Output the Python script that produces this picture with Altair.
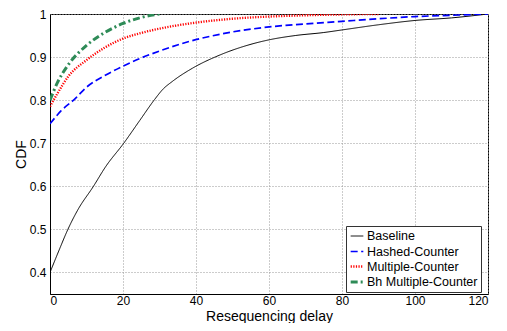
import altair as alt
import pandas as pd

series_names = ["Baseline", "Hashed-Counter", "Multiple-Counter", "Bh Multiple-Counter"]

baseline_x = [0, 2.5, 4.9, 7.6, 11.9, 15.2, 20.2, 24.6, 28.7, 30.9, 33.6, 39, 46.6, 55.6, 60, 67.2, 75, 80,
              90, 100, 110, 120]
baseline_y = [0.40, 0.452, 0.50, 0.545, 0.60, 0.645, 0.70, 0.753, 0.802, 0.825, 0.844, 0.874, 0.905, 0.931,
              0.940, 0.95, 0.957, 0.963, 0.975, 0.985, 0.991, 1.0]

hashed_x = [0, 3, 6.7, 10, 15, 20, 25, 30, 37.6, 46.6, 60, 70, 80, 90, 100, 110, 120]
hashed_y = [0.745, 0.775, 0.802, 0.830, 0.857, 0.879, 0.898, 0.914, 0.935, 0.953, 0.970, 0.977, 0.983, 0.989, 0.994,
            0.997, 1.0]

multi_x = [0, 2, 5, 10, 15, 20, 25, 30, 40, 50, 60, 70, 80, 90]
multi_y = [0.785, 0.815, 0.855, 0.893, 0.922, 0.943, 0.956, 0.966, 0.98, 0.989, 0.994, 0.997, 0.999, 1.0]

bh_x = [0, 2, 5, 10, 15, 20, 25, 30]
bh_y = [0.80, 0.84, 0.882, 0.927, 0.957, 0.978, 0.992, 1.0]

colors = ["#000000", "#0000FF", "#FF0000", "#2E8B57"]
dashes = [[1, 0], [7, 3.5], [1.2, 1.4], [7, 3, 2, 3]]
widths = [1.0, 3.0, 1.3, 2.5]

y_ticks = [0.4, 0.5, 0.6, 0.7, 0.8, 0.9, 1.0]
x_ticks = [0, 20, 40, 60, 80, 100, 120]

rows = []
for name, xs, ys in zip(series_names,
                        [baseline_x, hashed_x, multi_x, bh_x],
                        [baseline_y, hashed_y, multi_y, bh_y]):
    for x, y in zip(xs, ys):
        rows.append({"series": name, "delay": x, "cdf": y})
df = pd.DataFrame(rows)

font = "Liberation Sans"
leg = alt.Legend(title=None, orient="none", legendX=296, legendY=212)

chart = alt.Chart(df).mark_line(interpolate="monotone", clip=True).encode(
    x=alt.X("delay:Q", scale=alt.Scale(domain=[0, 120], nice=False),
            axis=alt.Axis(values=x_ticks, title="Resequencing delay", format="d")),
    y=alt.Y("cdf:Q", scale=alt.Scale(domain=[0.35, 1.0], nice=False, zero=False),
            axis=alt.Axis(values=y_ticks, title="CDF", labelExpr="datum.value == 1 ? '1' : format(datum.value, '.1f')")),
    color=alt.Color("series:N", sort=series_names,
                    scale=alt.Scale(domain=series_names, range=colors), legend=leg),
    strokeDash=alt.StrokeDash("series:N", sort=series_names,
                              scale=alt.Scale(domain=series_names, range=dashes), legend=leg),
    strokeWidth=alt.StrokeWidth("series:N", sort=series_names,
                                scale=alt.Scale(domain=series_names, range=widths), legend=leg),
).properties(
    width=438, height=280,
    autosize=alt.AutoSizeParams(type="none"),
    padding={"left": 42, "top": 6, "right": 11, "bottom": 29},
).configure_view(
    stroke="#000000", strokeWidth=1
).configure_axis(
    labelFont=font, titleFont=font, labelFontSize=12, titleFontSize=14,
    titleFontWeight="normal", labelColor="#000", titleColor="#000",
    domainColor="#000", ticks=False,
    grid=True, gridColor="#999999", gridDash=[1, 2], gridOpacity=1,
).configure_axisY(
    titlePadding=1, labelPadding=4
).configure_axisX(
    titlePadding=3, labelPadding=1
).configure_legend(
    labelFont=font, labelFontSize=12.5, labelColor="#000",
    symbolType="stroke", symbolSize=160, symbolStrokeWidth=2.5,
    strokeColor="#333333", fillColor="#ffffff", padding=3, rowPadding=1,
    labelOffset=2, cornerRadius=0,
)

chart.save("out.html", embed_options={"renderer": "svg", "actions": False})
